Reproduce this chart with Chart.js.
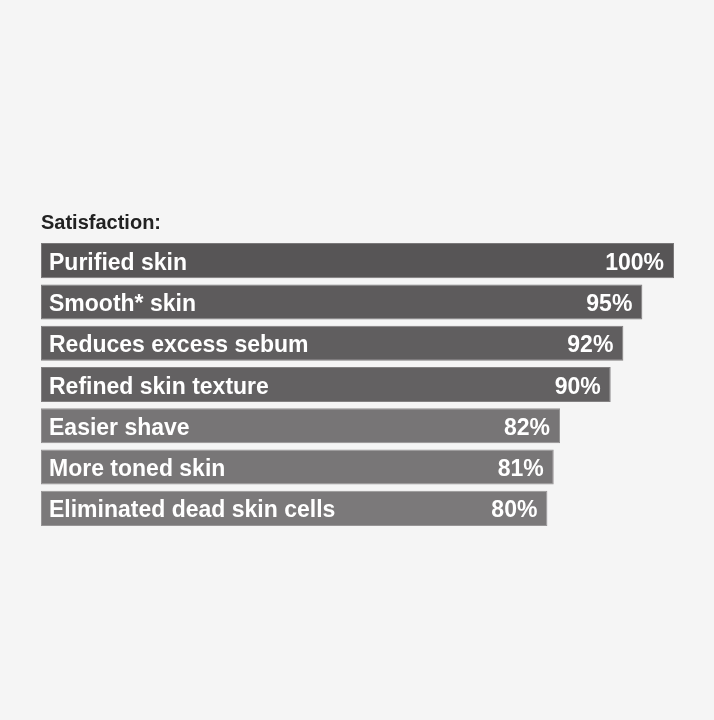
<!DOCTYPE html>
<html>
<head>
<meta charset="utf-8">
<script src="https://cdn.jsdelivr.net/npm/chart.js@4.4.1/dist/chart.umd.min.js"></script>
<style>
  html, body { margin: 0; padding: 0; background: #f5f5f5; }
  #wrap { width: 714px; height: 720px; position: relative; }
</style>
</head>
<body>
<div id="wrap"><canvas id="c" width="714" height="720"></canvas></div>
<script>
const title = "Satisfaction:";
const categories = [
  "Purified skin",
  "Smooth* skin",
  "Reduces excess sebum",
  "Refined skin texture",
  "Easier shave",
  "More toned skin",
  "Eliminated dead skin cells"
];
const values = [100, 95, 92, 90, 82, 81, 80];
const barColors = ["#575556", "#5d5b5c", "#605e5f", "#636162", "#777576", "#787677", "#7b797a"];
const borderColors = ["#7a7879", "#7e7c7d", "#807e7f", "#838182", "#939192", "#949293", "#979596"];

const labelPlugin = {
  id: "labels",
  afterDatasetsDraw(chart) {
    const ctx = chart.ctx;
    const meta = chart.getDatasetMeta(0);
    const area = chart.chartArea;
    ctx.save();
    ctx.fillStyle = "#ffffff";
    ctx.font = "bold 23px 'Liberation Sans', Arial, sans-serif";
    ctx.textBaseline = "alphabetic";
    meta.data.forEach((bar, i) => {
      ctx.textAlign = "left";
      ctx.fillText(categories[i], area.left + 8, bar.y + 9);
      ctx.textAlign = "right";
      ctx.fillText(values[i] + "%", bar.x - 10, bar.y + 9);
    });
    ctx.fillStyle = "#222222";
    ctx.font = "bold 20px 'Liberation Sans', Arial, sans-serif";
    ctx.textAlign = "left";
    ctx.fillText(title, area.left, 229);
    ctx.restore();
  }
};

new Chart(document.getElementById("c"), {
  type: "bar",
  data: {
    labels: categories,
    datasets: [{
      data: values,
      backgroundColor: barColors,
      borderColor: borderColors,
      borderWidth: 1,
      borderSkipped: false,
      barPercentage: 0.85,
      categoryPercentage: 1
    }]
  },
  options: {
    indexAxis: "y",
    responsive: false,
    animation: false,
    layout: { padding: { left: 41, right: 40, top: 240, bottom: 191 } },
    scales: {
      x: { display: false, min: 0, max: 100 },
      y: { display: false }
    },
    plugins: {
      legend: { display: false },
      tooltip: { enabled: false }
    }
  },
  plugins: [labelPlugin]
});
</script>
</body>
</html>
